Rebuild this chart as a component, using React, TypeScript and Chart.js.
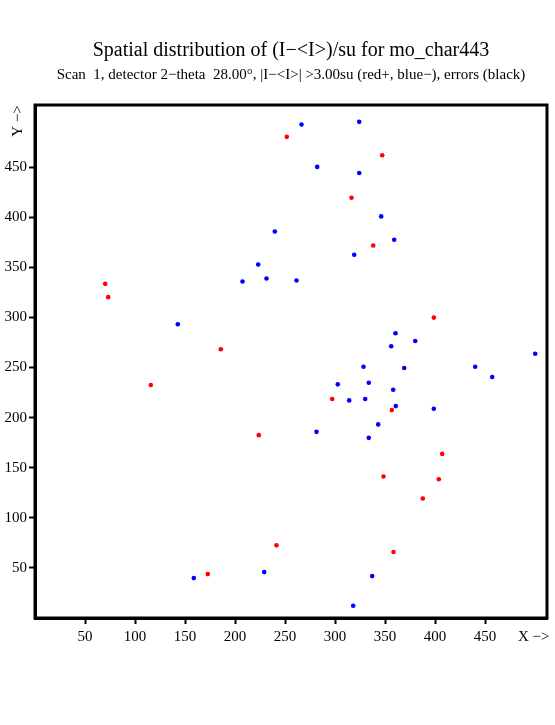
import React, { useEffect, useRef } from "react";
import { Chart, registerables } from "chart.js";

Chart.register(...registerables);

const TITLE = "Spatial distribution of (I\u2212<I>)/su for mo_char443";
const SUBTITLE = "Scan  1, detector 2\u2212theta  28.00\u00b0, |I\u2212<I>| >3.00su (red+, blue\u2212), errors (black)";

const X_TICKS = [50, 100, 150, 200, 250, 300, 350, 400, 450];
const Y_TICKS = [50, 100, 150, 200, 250, 300, 350, 400, 450];

const RED_X = [251.8, 70.2, 73.2, 185.8, 347.2, 316.5, 338.2, 398.8, 115.8, 223.8, 241.5, 172.8, 297.2, 356.8, 407.2, 348.5, 403.8, 387.8, 358.5];
const RED_Y = [480.2, 333.5, 320.2, 268.2, 461.8, 419.5, 371.8, 299.8, 232.5, 182.5, 72.5, 43.8, 218.5, 207.5, 163.8, 141.2, 138.5, 119.2, 65.8];

const BLUE_X = [239.8, 223.2, 231.5, 207.5, 142.8, 266.5, 324.2, 282.2, 324.2, 346.2, 359.2, 319.2, 261.5, 360.5, 380.2, 356.2, 500.2, 229.2, 158.8, 328.5, 369.2, 440.2, 457.2, 302.8, 333.8, 358.2, 314.2, 330.2, 360.8, 398.8, 343.2, 281.5, 333.8, 337.2, 318.2];
const BLUE_Y = [385.8, 352.8, 338.8, 335.8, 293.2, 492.5, 495.2, 450.2, 444.2, 400.8, 377.5, 362.5, 336.8, 284.2, 276.5, 271.2, 263.8, 45.8, 39.8, 250.8, 249.5, 250.8, 240.5, 233.2, 234.8, 227.8, 217.2, 218.5, 211.5, 208.8, 193.2, 185.8, 179.8, 41.8, 12.2];

const X_MIN = 0;
const X_MAX = 512;
const Y_MIN = 0;
const Y_MAX = 512;

const FONT = "'Liberation Serif', 'Times New Roman', serif";

const decorPlugin = {
  id: "decor",
  afterDraw(chart: any) {
    const { ctx, chartArea } = chart;
    const cx = (chartArea.left + chartArea.right) / 2;
    ctx.save();
    ctx.strokeStyle = "#000";
    ctx.lineWidth = 3;
    ctx.strokeRect(chartArea.left, chartArea.top, chartArea.right - chartArea.left, chartArea.bottom - chartArea.top);
    ctx.fillStyle = "#000";
    ctx.textAlign = "center";
    ctx.textBaseline = "alphabetic";
    ctx.font = `20px ${FONT}`;
    ctx.fillText(TITLE, cx, 56);
    ctx.font = `15px ${FONT}`;
    ctx.fillText(SUBTITLE, cx, 79);
    ctx.font = `15px ${FONT}`;
    ctx.textAlign = "left";
    ctx.textBaseline = "middle";
    ctx.fillText("X \u2212>", 518, 637);
    ctx.translate(18, 121);
    ctx.rotate(-Math.PI / 2);
    ctx.textAlign = "center";
    ctx.fillText("Y \u2212>", 0, 0);
    ctx.restore();
  },
};

export default function App() {
  const ref = useRef<HTMLCanvasElement>(null);
  useEffect(() => {
    if (!ref.current) return;
    const red = RED_X.map((x, i) => ({ x, y: RED_Y[i] }));
    const blue = BLUE_X.map((x, i) => ({ x, y: BLUE_Y[i] }));
    const chart = new Chart(ref.current, {
      type: "scatter",
      data: {
        datasets: [
          { label: "red+", data: red, backgroundColor: "#ff0000", borderColor: "#ff0000", pointRadius: 2.3, borderWidth: 0 },
          { label: "blue-", data: blue, backgroundColor: "#0000ff", borderColor: "#0000ff", pointRadius: 2.3, borderWidth: 0 },
        ],
      },
      options: {
        responsive: false,
        animation: false,
        devicePixelRatio: 1,
        layout: { padding: { left: 0, right: 8, top: 105, bottom: 67 } },
        plugins: { legend: { display: false }, tooltip: { enabled: false }, title: { display: false } },
        scales: {
          x: {
            type: "linear",
            min: X_MIN,
            max: X_MAX,
            afterFit: (s: any) => { s.height = 40; },
            afterBuildTicks: (s: any) => { s.ticks = X_TICKS.map((v) => ({ value: v })); },
            ticks: { color: "#000", font: { family: FONT, size: 15 }, padding: 4, maxRotation: 0, autoSkip: false },
            grid: { drawOnChartArea: false, drawTicks: true, tickLength: 6, tickWidth: 2, tickColor: "#000", color: "#000" },
            border: { display: true, color: "#000", width: 3 },
          },
          y: {
            type: "linear",
            min: Y_MIN,
            max: Y_MAX,
            afterFit: (s: any) => { s.width = 35; },
            afterBuildTicks: (s: any) => { s.ticks = Y_TICKS.map((v) => ({ value: v })); },
            ticks: { color: "#000", font: { family: FONT, size: 15 }, padding: 2, autoSkip: false },
            grid: { drawOnChartArea: false, drawTicks: true, tickLength: 6, tickWidth: 2, tickColor: "#000", color: "#000" },
            border: { display: true, color: "#000", width: 3 },
          },
        },
      },
      plugins: [decorPlugin],
    });
    return () => chart.destroy();
  }, []);
  return (
    <div style={{ position: "fixed", left: 0, top: 0, width: 555, height: 725, background: "#fff" }}>
      <canvas ref={ref} width={555} height={725} />
    </div>
  );
}
